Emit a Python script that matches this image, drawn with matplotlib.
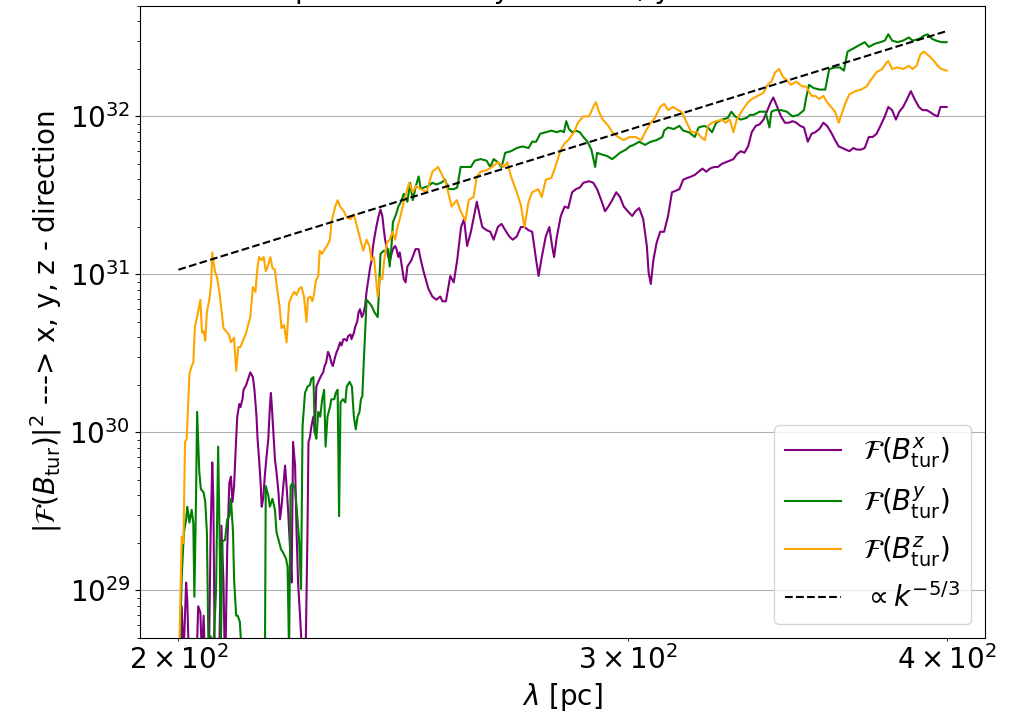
import numpy as np
import matplotlib
matplotlib.use("Agg")
import matplotlib.pyplot as plt

plt.rcParams['font.size'] = 20

# wavelength [pc] and log10 of |F(B_tur)|^2
lam_x = [200.0, 200.6, 200.9, 201.4, 201.6, 202.0, 203.2, 203.6, 204.0, 204.3,
         204.6, 204.9, 205.5, 205.9, 206.2, 206.4, 206.7, 207.4, 207.9, 208.3,
         208.6, 209.0, 209.4, 209.7, 210.0, 210.3, 210.6, 210.9, 211.3, 211.5,
         211.9, 212.1, 212.6, 213.1, 213.4, 213.9, 214.2, 214.6, 214.8, 215.1,
         215.4, 215.6, 215.9, 216.2, 216.5, 216.9, 217.2, 217.4, 217.6, 217.9,
         218.2, 218.5, 218.9, 219.2, 219.5, 219.8, 220.2, 220.5, 220.8, 221.2,
         221.5, 221.8, 222.2, 222.5, 222.8, 223.2, 223.5, 224.2, 224.4, 224.7,
         224.9, 225.2, 225.5, 225.9, 226.2, 226.5, 226.9, 227.2, 227.5, 227.9,
         228.2, 228.5, 228.9, 229.3, 229.6, 229.9, 230.4, 230.7, 231.0, 231.4,
         231.7, 232.1, 232.4, 232.8, 233.1, 233.6, 233.8, 234.3, 234.6, 235.0,
         235.3, 235.6, 236.0, 236.3, 236.7, 237.0, 237.4, 237.8, 238.1, 238.4,
         238.9, 239.3, 239.6, 240.0, 240.4, 240.7, 241.0, 241.4, 241.7, 242.0,
         242.4, 242.7, 243.2, 243.5, 243.9, 244.2, 245.1, 245.5, 245.9, 246.8,
         247.7, 248.4, 248.9, 249.6, 250.6, 251.5, 252.4, 253.3, 253.8, 254.6,
         255.6, 256.4, 257.2, 258.1, 258.8, 259.5, 260.4, 261.3, 261.8, 262.5,
         263.1, 264.1, 265.0, 265.8, 266.8, 267.7, 268.6, 269.6, 270.4, 271.4,
         272.4, 273.3, 274.3, 275.2, 276.2, 276.8, 277.6, 278.6, 279.5, 280.2,
         280.7, 281.4, 282.4, 283.4, 284.3, 285.3, 286.3, 287.3, 288.2, 289.7,
         290.8, 291.8, 292.9, 293.9, 294.8, 295.8, 296.9, 297.9, 298.9, 300.0,
         301.2, 302.1, 303.1, 304.2, 305.2, 305.7, 306.3, 307.0, 307.9, 308.9,
         310.0, 311.1, 312.2, 313.3, 314.3, 315.4, 316.5, 317.7, 318.7, 319.8,
         320.9, 322.0, 323.1, 324.3, 325.4, 326.6, 327.7, 328.9, 330.0, 331.0,
         332.2, 333.3, 334.4, 335.5, 336.7, 337.9, 339.1, 340.3, 341.3, 342.1,
         343.3, 344.5, 345.7, 346.9, 348.1, 349.3, 350.5, 351.7, 352.9, 354.1,
         355.3, 356.6, 357.9, 359.1, 360.4, 361.7, 362.9, 364.1, 365.2, 366.4,
         367.7, 368.9, 370.3, 371.5, 372.9, 374.2, 375.5, 376.8, 378.3, 379.5,
         380.8, 382.1, 383.3, 384.6, 386.0, 387.3, 388.6, 390.1, 391.4, 392.8,
         393.9, 395.5, 396.8, 397.8, 399.0, 400.0]
logp_x = [28.31, 28.90, 28.56, 29.05, 28.94, 28.44, 28.44, 28.90, 28.86, 28.56,
          28.84, 28.50, 28.37, 29.37, 29.81, 29.58, 28.44, 28.37, 29.41, 29.05,
          28.44, 29.26, 29.68, 29.72, 29.56, 29.66, 29.89, 30.10, 30.18, 30.16,
          30.21, 30.27, 30.30, 30.35, 30.38, 30.35, 30.27, 30.10, 29.96, 29.83,
          29.68, 29.53, 29.58, 29.72, 29.83, 29.96, 30.16, 30.25, 30.16, 29.99,
          29.83, 29.75, 29.62, 29.45, 29.53, 29.64, 29.79, 29.66, 29.51, 29.26,
          29.05, 29.94, 29.79, 29.37, 29.05, 28.84, 28.66, 28.37, 28.75, 29.37,
          29.94, 29.97, 30.04, 30.10, 30.00, 30.29, 30.32, 30.34, 30.36, 30.38,
          30.42, 30.44, 30.51, 30.48, 30.44, 30.42, 30.48, 30.51, 30.53, 30.57,
          30.55, 30.59, 30.59, 30.58, 30.61, 30.62, 30.59, 30.63, 30.67, 30.70,
          30.76, 30.78, 30.73, 30.75, 30.80, 30.89, 30.97, 31.05, 31.09, 31.18,
          31.27, 31.33, 31.37, 31.41, 31.37, 31.29, 31.22, 31.16, 31.11, 31.08,
          31.13, 31.16, 31.18, 31.16, 31.11, 31.14, 30.97, 30.95, 31.05, 31.09,
          31.16, 31.16, 31.09, 31.01, 30.91, 30.86, 30.84, 30.86, 30.83, 30.83,
          30.99, 30.95, 31.09, 31.30, 31.35, 31.18, 31.27, 31.39, 31.46, 31.37,
          31.30, 31.28, 31.27, 31.22, 31.30, 31.32, 31.28, 31.24, 31.22, 31.24,
          31.30, 31.30, 31.28, 31.27, 31.09, 30.99, 31.11, 31.24, 31.30, 31.18,
          31.11, 31.24, 31.37, 31.43, 31.42, 31.52, 31.54, 31.55, 31.58, 31.59,
          31.58, 31.54, 31.47, 31.40, 31.43, 31.47, 31.52, 31.49, 31.43, 31.40,
          31.37, 31.40, 31.42, 31.35, 31.18, 31.01, 30.94, 31.09, 31.20, 31.27,
          31.27, 31.37, 31.52, 31.53, 31.54, 31.60, 31.61, 31.62, 31.63, 31.65,
          31.67, 31.65, 31.67, 31.68, 31.68, 31.70, 31.71, 31.72, 31.73, 31.76,
          31.78, 31.77, 31.81, 31.90, 31.94, 31.95, 31.98, 32.04, 32.09, 32.12,
          32.06, 32.00, 31.96, 31.96, 31.97, 31.96, 31.94, 31.93, 31.84, 31.89,
          31.90, 31.92, 31.96, 31.94, 31.90, 31.85, 31.81, 31.80, 31.79, 31.78,
          31.80, 31.79, 31.79, 31.80, 31.87, 31.87, 31.89, 31.94, 32.00, 32.06,
          32.04, 31.98, 32.03, 32.06, 32.11, 32.16, 32.11, 32.06, 32.04, 32.04,
          32.03, 32.01, 32.00, 32.06, 32.06, 32.06]

lam_y = [200.0, 200.6, 201.0, 201.4, 201.6, 202.0, 202.4, 202.7, 202.9, 203.2,
         203.4, 203.8, 204.1, 204.6, 204.9, 205.2, 205.5, 205.9, 206.4, 206.9,
         207.3, 207.6, 207.8, 208.1, 208.6, 209.0, 209.4, 209.7, 210.1, 210.3,
         210.7, 211.0, 211.4, 211.7, 212.0, 216.2, 216.4, 216.9, 217.2, 217.7,
         218.2, 218.5, 219.0, 219.4, 219.8, 220.4, 220.7, 221.0, 221.3, 221.7,
         222.2, 222.5, 223.0, 223.4, 223.7, 224.2, 224.7, 225.2, 225.5, 225.9,
         226.2, 226.5, 226.9, 227.3, 227.7, 228.1, 228.4, 228.8, 229.3, 229.6,
         230.2, 230.5, 230.9, 231.2, 231.5, 232.0, 232.5, 232.8, 233.4, 233.9,
         234.3, 234.7, 235.1, 235.5, 235.8, 236.1, 236.4, 236.7, 237.0, 237.6,
         238.1, 238.7, 239.4, 239.7, 240.0, 240.7, 241.3, 241.7, 242.0, 242.4,
         242.7, 243.4, 243.9, 244.5, 245.1, 245.9, 246.5, 247.1, 247.8, 248.4,
         248.9, 249.6, 250.6, 251.5, 252.4, 253.5, 254.4, 255.2, 256.4, 257.2,
         258.0, 259.1, 260.4, 261.3, 262.7, 264.1, 265.0, 265.8, 266.8, 267.7,
         268.6, 270.0, 271.4, 272.8, 274.3, 275.2, 276.2, 277.2, 278.6, 280.0,
         281.4, 282.4, 283.2, 283.8, 284.5, 285.3, 286.3, 287.3, 288.2, 289.3,
         290.3, 291.3, 291.8, 292.9, 294.4, 295.8, 296.9, 297.9, 299.5, 300.5,
         301.6, 303.1, 304.7, 306.3, 307.9, 309.5, 310.0, 311.1, 312.7, 314.3,
         315.4, 317.0, 318.7, 319.8, 321.4, 322.5, 323.7, 324.9, 326.6, 328.3,
         329.4, 330.5, 332.2, 333.9, 335.0, 336.1, 337.9, 339.7, 340.9, 341.5,
         342.7, 344.5, 346.3, 348.1, 349.9, 351.7, 352.3, 353.3, 354.7, 356.6,
         358.5, 359.1, 359.8, 361.7, 363.3, 364.6, 365.2, 365.8, 367.7, 369.6,
         371.5, 372.9, 374.9, 376.8, 378.3, 379.5, 380.8, 382.7, 384.6, 386.6,
         387.9, 390.1, 391.8, 393.2, 394.9, 396.2, 398.1, 400.0]
logp_y = [28.31, 29.09, 29.37, 29.45, 29.53, 29.43, 29.51, 29.43, 28.96, 29.58,
          30.13, 29.75, 29.64, 29.62, 29.56, 29.37, 28.63, 28.71, 28.63, 28.99,
          29.91, 29.26, 28.63, 29.31, 29.32, 29.45, 29.47, 29.58, 29.37, 29.07,
          28.84, 28.84, 28.80, 28.63, 28.31, 28.31, 29.66, 29.60, 29.53, 29.58,
          29.51, 29.37, 29.31, 29.26, 29.24, 29.20, 29.15, 28.60, 29.66, 29.68,
          29.64, 29.53, 29.32, 29.01, 30.04, 30.25, 30.29, 30.30, 30.34, 30.35,
          30.00, 29.96, 30.13, 30.10, 30.21, 30.27, 29.91, 30.10, 30.16, 30.21,
          30.21, 30.25, 30.27, 29.47, 30.19, 30.21, 30.19, 30.29, 30.32, 30.29,
          30.10, 30.02, 30.10, 30.13, 30.21, 30.23, 30.44, 30.63, 30.84, 30.82,
          30.80, 30.76, 30.73, 30.92, 31.13, 31.15, 31.15, 31.16, 31.05, 31.18,
          31.33, 31.38, 31.43, 31.46, 31.51, 31.46, 31.58, 31.47, 31.56, 31.62,
          31.54, 31.55, 31.56, 31.58, 31.57, 31.58, 31.60, 31.54, 31.54, 31.55,
          31.68, 31.68, 31.68, 31.72, 31.73, 31.72, 31.68, 31.73, 31.71, 31.68,
          31.77, 31.78, 31.80, 31.81, 31.80, 31.84, 31.84, 31.89, 31.90, 31.91,
          31.90, 31.91, 31.90, 31.97, 31.92, 31.90, 31.91, 31.90, 31.87, 31.84,
          31.79, 31.68, 31.77, 31.76, 31.75, 31.73, 31.75, 31.77, 31.79, 31.81,
          31.82, 31.84, 31.82, 31.84, 31.85, 31.87, 31.91, 31.93, 31.92, 31.94,
          31.91, 31.90, 31.87, 31.93, 31.94, 31.93, 31.90, 31.96, 31.98, 31.99,
          32.03, 32.00, 31.98, 31.99, 32.01, 32.01, 32.03, 32.03, 31.93, 32.03,
          32.04, 32.04, 32.03, 32.00, 32.01, 32.04, 32.11, 32.20, 32.18, 32.17,
          32.17, 32.23, 32.30, 32.31, 32.31, 32.29, 32.35, 32.41, 32.43, 32.45,
          32.47, 32.44, 32.46, 32.47, 32.48, 32.52, 32.48, 32.47, 32.48, 32.50,
          32.48, 32.49, 32.51, 32.52, 32.49, 32.48, 32.47, 32.47]

lam_z = [200.0, 200.6, 200.9, 201.2, 201.5, 202.0, 202.4, 202.7, 203.0, 203.4,
         204.0, 204.3, 204.6, 204.9, 205.2, 205.7, 206.0, 206.2, 206.7, 207.1,
         207.6, 208.3, 208.8, 209.3, 209.7, 210.3, 210.7, 211.1, 211.5, 212.1,
         212.6, 212.9, 213.4, 213.9, 214.4, 214.8, 215.1, 215.6, 216.0, 216.4,
         216.9, 217.3, 217.7, 218.2, 218.5, 219.1, 219.5, 220.0, 220.5, 221.0,
         221.5, 222.0, 222.5, 223.0, 223.5, 224.0, 224.5, 224.8, 225.3, 225.7,
         226.0, 226.4, 226.9, 227.2, 227.7, 228.2, 228.7, 229.3, 229.6, 230.4,
         230.9, 231.4, 232.2, 232.8, 233.6, 234.3, 235.0, 235.6, 236.3, 237.0,
         237.6, 238.1, 238.6, 239.4, 239.9, 240.4, 240.8, 241.4, 242.0, 242.6,
         243.2, 243.7, 244.2, 245.1, 246.3, 247.1, 247.8, 248.9, 250.2, 251.5,
         252.8, 253.7, 254.6, 255.9, 257.1, 258.0, 259.1, 259.9, 261.0, 261.8,
         262.7, 264.1, 265.4, 266.8, 268.2, 269.1, 270.0, 271.4, 272.4, 273.3,
         274.3, 275.2, 276.7, 277.6, 278.6, 280.0, 281.0, 282.4, 283.4, 284.3,
         285.8, 286.8, 288.2, 289.7, 290.8, 291.5, 292.3, 293.3, 294.8, 295.8,
         297.4, 298.9, 300.5, 302.1, 303.7, 304.7, 306.3, 307.4, 308.9, 310.0,
         311.1, 312.5, 313.9, 314.9, 316.4, 317.7, 319.4, 320.4, 321.6, 322.5,
         323.7, 324.9, 326.6, 327.7, 328.9, 330.0, 331.0, 332.7, 334.4, 335.5,
         337.3, 339.1, 340.3, 341.5, 342.7, 343.9, 345.1, 346.3, 347.5, 349.3,
         351.1, 352.3, 354.1, 355.3, 356.6, 357.9, 359.1, 360.4, 361.7, 362.9,
         364.1, 365.2, 366.4, 368.4, 370.3, 372.2, 373.5, 375.5, 377.4, 378.9,
         379.5, 380.8, 382.7, 384.6, 386.6, 387.9, 389.3, 390.6, 391.8, 393.9,
         395.5, 396.8, 398.1, 400.0]
logp_z = [28.37, 29.34, 29.30, 29.94, 29.96, 30.37, 30.42, 30.44, 30.67, 30.73,
          30.84, 30.63, 30.64, 30.58, 30.76, 30.85, 30.95, 31.14, 31.02, 30.98,
          30.87, 30.66, 30.64, 30.62, 30.57, 30.60, 30.39, 30.54, 30.54, 30.59,
          30.63, 30.67, 30.73, 30.92, 30.89, 31.05, 31.11, 31.09, 31.11, 31.02,
          31.06, 31.11, 31.04, 31.03, 30.94, 30.80, 30.66, 30.68, 30.57, 30.82,
          30.86, 30.89, 30.87, 30.91, 30.92, 30.86, 30.70, 30.85, 30.86, 30.83,
          30.87, 30.96, 30.99, 31.15, 31.13, 31.16, 31.18, 31.22, 31.33, 31.43,
          31.47, 31.43, 31.40, 31.36, 31.35, 31.38, 31.30, 31.23, 31.15, 31.22,
          31.18, 31.09, 31.11, 30.86, 30.98, 30.97, 31.09, 31.20, 31.22, 31.27,
          31.22, 31.30, 31.35, 31.46, 31.58, 31.52, 31.56, 31.54, 31.52, 31.65,
          31.68, 31.63, 31.58, 31.43, 31.47, 31.40, 31.34, 31.47, 31.49, 31.62,
          31.65, 31.66, 31.68, 31.71, 31.68, 31.71, 31.62, 31.52, 31.44, 31.30,
          31.46, 31.52, 31.54, 31.49, 31.60, 31.61, 31.68, 31.79, 31.83, 31.85,
          31.90, 31.96, 32.00, 32.00, 32.06, 32.09, 32.03, 31.98, 31.94, 31.90,
          31.87, 31.85, 31.87, 31.87, 31.85, 31.90, 31.96, 31.99, 32.06, 32.08,
          32.04, 32.06, 32.04, 32.03, 31.96, 31.90, 31.90, 31.87, 31.85, 31.94,
          31.96, 31.97, 31.98, 31.96, 31.98, 31.90, 31.98, 32.04, 32.09, 32.11,
          32.13, 32.15, 32.20, 32.22, 32.28, 32.30, 32.25, 32.23, 32.20, 32.22,
          32.19, 32.19, 32.13, 32.13, 32.11, 32.13, 32.09, 32.06, 32.03, 31.96,
          32.03, 32.09, 32.14, 32.16, 32.17, 32.19, 32.23, 32.28, 32.30, 32.34,
          32.35, 32.30, 32.31, 32.30, 32.32, 32.30, 32.32, 32.39, 32.41, 32.38,
          32.35, 32.32, 32.30, 32.29]

# reference power law, end points
lam_ref = [200.0, 400.0]
logp_ref = [31.03, 32.54]

labels = [r'$\mathcal{F}(B^x_{\rm tur})$', r'$\mathcal{F}(B^y_{\rm tur})$',
          r'$\mathcal{F}(B^z_{\rm tur})$', r'$\propto k^{-5/3}$']

fig = plt.figure(figsize=(10.25, 7.13), dpi=100)
ax = fig.add_axes([0.1366, 0.1052, 0.8244, 0.8864])

ax.plot(lam_x, 10**np.array(logp_x), color='purple', lw=1.5, label=labels[0])
ax.plot(lam_y, 10**np.array(logp_y), color='green', lw=1.5, label=labels[1])
ax.plot(lam_z, 10**np.array(logp_z), color='orange', lw=1.5, label=labels[2])
ax.plot(lam_ref, 10**np.array(logp_ref), 'k--', lw=1.5, label=labels[3])

ax.set_xscale('log')
ax.set_yscale('log')
ax.set_ylim(5e28, 5e32)
ax.grid(True)
ax.set_xlabel(r'$\lambda$ [pc]')
ax.set_ylabel(r'$|\mathcal{F}(B_{\rm tur})|^2$ ---> x, y, z - direction')
ax.set_title('Turbulent power intensity for the x, y and z - direction of B', fontsize=20)
ax.legend(loc='lower right')

fig.savefig('out.png', dpi=100)
